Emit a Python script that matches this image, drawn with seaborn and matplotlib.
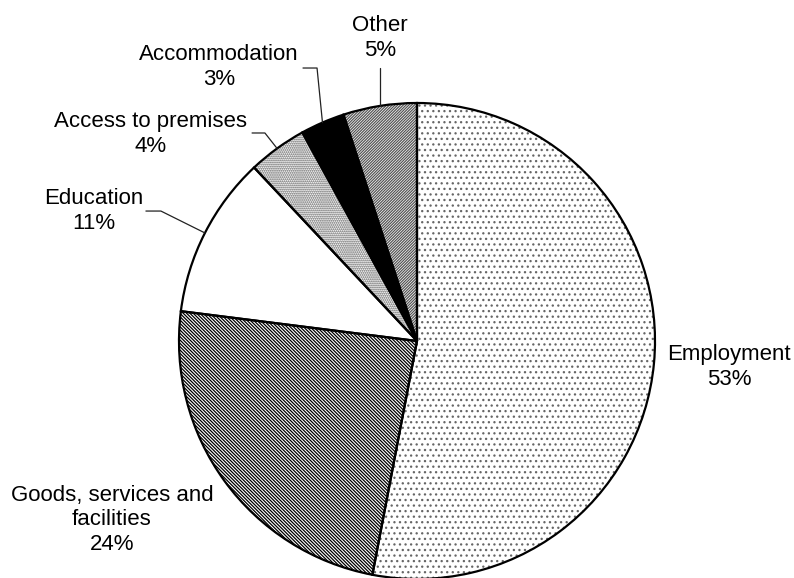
import numpy as np
import matplotlib
matplotlib.use("Agg")
import matplotlib.pyplot as plt
import seaborn as sns

# Discrimination complaints by area
categories = ["Employment", "Goods, services and\nfacilities", "Education",
              "Access to premises", "Accommodation", "Other"]
shares = [53, 24, 11, 4, 3, 5]

# Fill style of each slice
faces = ["white", "white", "white", "white", "black", "white"]
hatches = ["...", "\\" * 10, "", "." * 8, "", "/" * 12]
hatch_colors = ["#666666", "black", "black", "#555555", "black", "#555555"]

# Label block centres and leader-line elbows (data units, pie radius = 1)
label_pos = [(1.311, -0.109), (-1.282, -0.752), (-1.357, 0.546),
             (-1.118, 0.870), (-0.832, 1.151), (-0.155, 1.273)]
leader_elbow = [None, None, (-1.076, 0.546), (-0.639, 0.874),
                (-0.420, 1.147), None]
leader_end = [None, None, (-1.139, 0.546), (-0.693, 0.874),
              (-0.479, 1.147), (-0.151, 1.147)]

sns.set_theme(style="white")
plt.rcParams["font.family"] = ["Liberation Sans", "DejaVu Sans"]
plt.rcParams["hatch.linewidth"] = 0.9

W, H, DPI = 794, 578, 100
fig = plt.figure(figsize=(W / DPI, H / DPI), dpi=DPI)
ax = fig.add_axes([0, 0, 1, 1])

# Hatched fills (hatch takes the edge colour, edge itself not drawn)
fills, _ = ax.pie(shares, startangle=90, counterclock=False, radius=1,
                  wedgeprops=dict(linewidth=0))
for w, fc, h, hc in zip(fills, faces, hatches, hatch_colors):
    w.set_facecolor(fc)
    w.set_edgecolor(hc)
    w.set_hatch(h)

# Black outlines on top
outlines, _ = ax.pie(shares, startangle=90, counterclock=False, radius=1,
                     wedgeprops=dict(facecolor="none", edgecolor="black",
                                     linewidth=1.6))

total = float(sum(shares))
cum = np.cumsum([0] + shares)
for i, (name, val) in enumerate(zip(categories, shares)):
    lx, ly = label_pos[i]
    ax.text(lx, ly, f"{name}\n{val}%", ha="center", va="center",
            fontsize=16, color="black", linespacing=1.2)
    if leader_end[i] is not None:
        mid = (cum[i] + val / 2) / total
        ang = np.deg2rad(90 - 360 * mid)
        px, py = np.cos(ang), np.sin(ang)
        ex, ey = leader_end[i]
        if leader_elbow[i] is None:
            xs, ys = [px, px], [py, ey]
        else:
            bx, by = leader_elbow[i]
            xs, ys = [px, bx, ex], [py, by, ey]
        ax.plot(xs, ys, color="#222222", linewidth=0.9)

cx, cy, r = 417, 341, 238
ax.set_xlim(-cx / r, (W - cx) / r)
ax.set_ylim(-(H - cy) / r, cy / r)
ax.set_aspect("auto")
ax.axis("off")

fig.savefig("out.png", dpi=DPI, facecolor="white")
